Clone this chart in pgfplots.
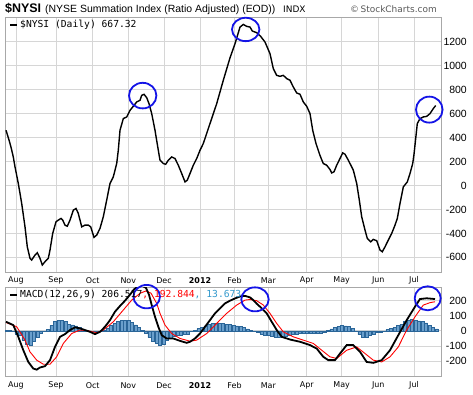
\documentclass[border=0pt]{standalone}
\usepackage{fontspec}
\setmainfont{Liberation Sans}
\newfontfamily\dejavu{DejaVu Sans}
\newfontfamily\mono{DejaVu Sans Mono}
\usepackage{pgfplots}
\pgfplotsset{compat=1.18}
\definecolor{gridc}{HTML}{D6D6D6}
\definecolor{axc}{HTML}{A8A8A8}
\definecolor{histfill}{HTML}{6A9FCC}
\definecolor{histedge}{HTML}{2A6598}
\definecolor{legblue}{HTML}{3399CC}
\definecolor{circ}{HTML}{1414E6}
\pgfplotsset{panel/.style={
  scale only axis, width=436bp, xmin=5, xmax=441,
  clip mode=individual,
  axis line style={axc, line width=0.6bp},
  grid=major, major grid style={gridc, line width=0.6bp},
  major tick length=0pt,
  xtick={16,56,92.7,128.3,164,200,234.5,268.3,306.7,341.7,378.3,414},
  xticklabels={Aug,Sep,Oct,Nov,Dec,\textbf{2012},Feb,Mar,Apr,May,Jun,Jul},
  xticklabel style={font=\dejavu\fontsize{8}{9}\selectfont, anchor=center, yshift=-8.5bp},
  yticklabel pos=right,
  yticklabel style={font=\fontsize{10.5}{12}\selectfont, anchor=east, inner sep=0pt, xshift=26bp},
}}
\begin{document}
\begin{tikzpicture}
\path[use as bounding box] (0,0) rectangle (473bp,395bp);
% ---------- top panel ----------
\begin{axis}[panel, at={(5bp,123bp)}, anchor=south west, height=255bp,
  ymin=-722, ymax=1406,
  ytick={-600,-400,-200,0,200,400,600,800,1000,1200},
  yticklabels={-600,-400,-200,0,200,400,600,800,1000,1200}]
\addplot[black, line width=1.4bp] coordinates {
(6,461) (9,380) (11,320) (13.3,238) (15,155) (18.3,17) (21.7,-150) (25,-345) (27.3,-512) (30,-608) (31.7,-622)
(35,-581) (37.3,-561) (40,-608) (42.3,-664) (45,-636) (48.3,-608) (50,-539) (52.7,-400) (56,-303) (58.3,-289)
(61,-275) (62.7,-289) (65,-331) (67.3,-340) (70,-289) (73.3,-206) (76,-192) (78.3,-233) (81.7,-345) (85,-331)
(88.3,-331) (90.7,-345) (94,-433) (96.7,-414) (100,-358) (103.3,-261) (106.7,-122) (110,17) (113.3,72)
(116.7,183) (118.3,294) (120,461) (123.3,558) (126.7,572) (130,627) (133.3,661) (136.7,697) (140,711)
(141.7,752) (144,761) (146.7,733) (149,683) (151.7,600) (155,461) (158.3,294) (160,211) (163.3,183)
(165.7,177) (168.3,211) (171.7,238) (175,225) (178.3,169) (181.7,100) (185,30) (187.3,44) (190,100)
(193.3,169) (196.7,225) (200,294) (203.3,350) (210,517) (216.7,683) (223.3,878) (230,1065) (235,1183)
(240,1322) (243.3,1344) (246.7,1328) (250,1322) (252.3,1289) (256.7,1275) (260.7,1244) (265,1197)
(270,1100) (273.3,975) (276.7,919) (280,911) (283.3,919) (286.7,892) (290,878) (293.3,822) (296.7,772)
(300,761) (303.3,697) (306.7,661) (310,600) (312.7,461) (316,350) (320,250) (323.3,183) (326.7,169)
(330,133) (331.7,105) (334,114) (336.7,169) (340,225) (342.7,272) (345,261) (348.3,211) (353.3,128)
(356.7,17) (359.3,-122) (361.7,-261) (365,-372) (367.3,-442) (370.7,-470) (373.3,-450) (376.7,-461)
(380,-539) (382.3,-553) (385,-512) (388.3,-456) (391.7,-400) (395,-331) (397.3,-275) (400,-150)
(403.3,-12) (407.3,30) (410,100) (412.7,183) (414,260) (415.5,377) (417.3,517) (420,558) (423.3,572)
(426.7,577) (430,600) (433.3,642) (435.7,667)
};
\draw[circ, line width=1.8bp] (axis cs:142.7,750) ellipse [x radius=13.7bp, y radius=12.8bp];
\draw[circ, line width=1.8bp] (axis cs:245.7,1302) ellipse [x radius=13.7bp, y radius=11.7bp];
\draw[circ, line width=1.8bp] (axis cs:429.3,633) ellipse [x radius=13.3bp, y radius=13bp];
\end{axis}
% ---------- bottom panel ----------
\begin{axis}[panel, at={(5bp,18.3bp)}, anchor=south west, height=89.7bp,
  ymin=-305, ymax=291,
  ytick={-200,-100,0,100,200},
  yticklabels={-200,-100,0,100,200}]
\addplot[ybar, bar width=3.1bp, fill=histfill, draw=histedge, line width=0.55bp]
 table[x expr=6+3.5*\coordindex, y=h] {
h
5
3
-5
-20
-33
-60
-90
-98
-70
-40
-18
-5
10
35
60
70
70
60
45
40
33
25
12
5
0
-5
-4
0
5
20
38
50
60
68
70
70
58
40
25
5
-15
-45
-70
-80
-93
-87
-65
-50
-38
-32
-28
-25
-20
-5
5
15
25
33
42
48
50
50
48
45
42
38
33
28
22
12
2
-5
-12
-20
-27
-30
-38
-45
-45
-40
-35
-30
-25
-20
-18
-16
-15
-15
-16
-16
-15
-8
2
12
22
30
35
33
27
15
-2
-25
-42
-45
-32
-20
-12
-8
-2
8
15
23
35
45
62
72
75
70
66
60
52
38
22
13
};
\addplot[red, line width=0.9bp] coordinates {
(6,55) (10,45) (16.7,27) (25,-62) (30,-140) (36.7,-195) (43.3,-222) (50,-222) (56.7,-173) (63.3,-84)
(71.7,-18) (80,5) (88.3,0) (96.7,-13) (103.3,5) (113.3,60) (123.3,138) (131.7,204) (140,249) (146,265)
(151,250) (156.7,182) (160,116) (165,38) (171.7,-18) (180,-51) (190,-69) (196.7,-62) (206.7,-18)
(216.7,49) (226.7,116) (236.7,171) (245,204) (250,208) (256.7,200) (263.3,171) (270,116) (276.7,49)
(283.3,-7) (293.3,-40) (303.3,-62) (313.3,-84) (321.7,-129) (330,-173) (336.7,-184) (346.7,-129)
(356.7,-107) (365,-151) (373.3,-195) (381.7,-207) (390,-173) (398.3,-107) (406.7,5) (415,93)
(423.3,171) (430,187) (435,193)
};
\addplot[black, line width=1.8bp] coordinates {
(6,60) (13.3,38) (18.3,-40) (23.3,-129) (28.3,-207) (33.3,-251) (36.7,-258) (40,-244) (45,-235) (50,-195)
(55,-107) (60,-40) (65,-22) (70,5) (75,23) (80,16) (85,5) (90,-7) (95,-22) (100,-7) (105,27) (110,71)
(115,127) (120,165) (125,200) (130,240) (134,275) (138,295) (142,300) (146,285) (149,240) (151.7,171)
(155,93) (158.3,27) (161.7,-29) (166.7,-51) (173.3,-51) (180,-67) (186.7,-80) (190,-73) (195,-51)
(200,-18) (205,27) (210,71) (215,116) (220,149) (225,182) (230,200) (235,215) (240,228) (245,232)
(250,222) (253.3,204) (256.7,180) (260,160) (266.7,116) (271.7,60) (276.7,5) (281.7,-40) (290,-58)
(300,-73) (310,-95) (316.7,-118) (323.3,-173) (328.3,-195) (335,-195) (340,-151) (346.7,-95)
(353.3,-95) (360,-140) (366.7,-207) (373.3,-213) (381.7,-195) (390,-129) (398.3,-29) (406.7,71)
(415,160) (420,211) (426.7,216) (435,211)
};
\draw[circ, line width=1.8bp] (axis cs:146.7,227) ellipse [x radius=13.3bp, y radius=11.7bp];
\draw[circ, line width=1.8bp] (axis cs:255,209) ellipse [x radius=13.7bp, y radius=12bp];
\draw[circ, line width=1.8bp] (axis cs:427.7,216) ellipse [x radius=13bp, y radius=12bp];
\end{axis}
% ---------- titles and legends ----------
\node[anchor=base west, inner sep=0] at (5bp,382.5bp) {\fontsize{12.5}{14}\selectfont\bfseries \$NYSI};
\node[anchor=base west, inner sep=0] at (45bp,382.5bp) {\fontsize{10.5}{12}\selectfont (NYSE Summation Index (Ratio Adjusted) (EOD))};
\node[anchor=base west, inner sep=0] at (283bp,382.5bp) {\dejavu\fontsize{9}{11}\selectfont INDX};
\node[anchor=base west, inner sep=0, text=black!65] at (350bp,382.5bp) {\dejavu\fontsize{9}{11}\selectfont \textcopyright\,StockCharts.com};
\draw[black, line width=2.2bp] (10bp,370bp) -- (17bp,370bp);
\node[anchor=west, inner sep=0] at (20bp,370bp) {\mono\fontsize{9.7}{11}\selectfont \$NYSI (Daily) 667.32};
\draw[black, line width=2.2bp] (10bp,100bp) -- (17bp,100bp);
\node[anchor=west, inner sep=0] at (20bp,100bp) {\mono\fontsize{9.7}{11}\selectfont MACD(12,26,9) 206.517\textcolor{red}{, 192.844}\textcolor{legblue}{, 13.673}};
\end{tikzpicture}
\end{document}
